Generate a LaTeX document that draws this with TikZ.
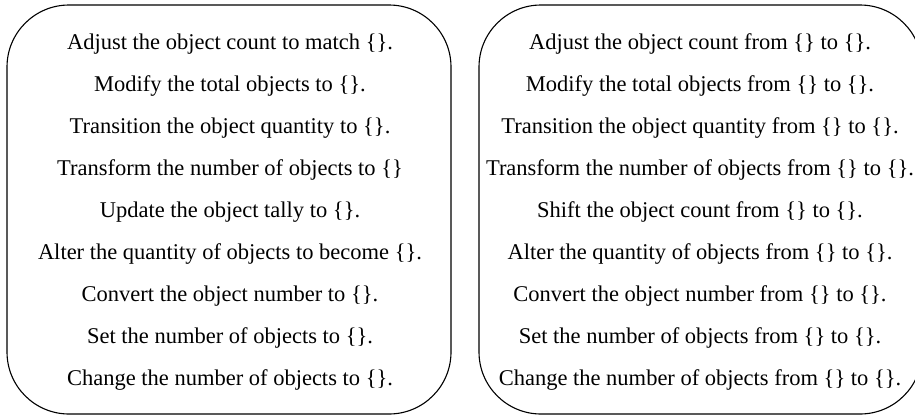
\documentclass[tikz,border=0pt]{standalone}
\usepackage{fontspec}
\setmainfont{Liberation Serif}
\usetikzlibrary{positioning, chains}

\begin{document}
\begin{tikzpicture}[x=1pt, y=-1pt, start chain=1 going below, start chain=2 going below, node distance=42pt, on grid]
	\tikzset{line/.style={font=\fontsize{22.5}{27}\selectfont, inner sep=0pt, text height=16pt, text depth=5pt}}
	\useasboundingbox (0,0) rectangle (915,416);
	\draw[rounded corners=62pt, line width=1.1pt] (7,5) rectangle (451,414);
	\draw[rounded corners=62pt, line width=1.1pt] (479,5) rectangle (922,414);
	\node[line, on chain=1] (a) at (230,44) {Adjust the object count to match \{\}.};
	\node[line, on chain=1] (b) {Modify the total objects to \{\}.};
	\node[line, on chain=1] (c) {Transition the object quantity to \{\}.};
	\node[line, on chain=1] (d) {Transform the number of objects to \{\}};
	\node[line, on chain=1] (e) {Update the object tally to \{\}.};
	\node[line, on chain=1] (f) {Alter the quantity of objects to become \{\}.};
	\node[line, on chain=1] (g) {Convert the object number to \{\}.};
	\node[line, on chain=1] (h) {Set the number of objects to \{\}.};
	\node[line, on chain=1] (i) {Change the number of objects to \{\}.};
	\node[line, on chain=2] (ra) at (700,44) {Adjust the object count from \{\} to \{\}.};
	\node[line, on chain=2] (rb) {Modify the total objects from \{\} to \{\}.};
	\node[line, on chain=2] (rc) {Transition the object quantity from \{\} to \{\}.};
	\node[line, on chain=2] (rd) {Transform the number of objects from \{\} to \{\}.};
	\node[line, on chain=2] (re) {Shift the object count from \{\} to \{\}.};
	\node[line, on chain=2] (rf) {Alter the quantity of objects from \{\} to \{\}.};
	\node[line, on chain=2] (rg) {Convert the object number from \{\} to \{\}.};
	\node[line, on chain=2] (rh) {Set the number of objects from \{\} to \{\}.};
	\node[line, on chain=2] (ri) {Change the number of objects from \{\} to \{\}.};
\end{tikzpicture}
\end{document}
